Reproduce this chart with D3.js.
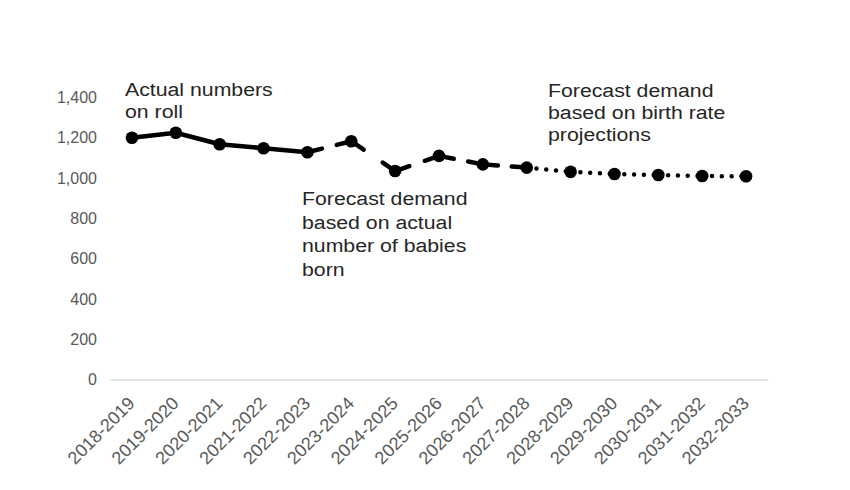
<!DOCTYPE html>
<html>
<head>
<meta charset="utf-8">
<script src="https://cdn.jsdelivr.net/npm/d3@7"></script>
<style>
  html, body { margin: 0; padding: 0; background: #ffffff; }
  svg { display: block; }
</style>
</head>
<body>
<svg id="chart" width="850" height="490"></svg>
<script>
const categories = ["2018-2019","2019-2020","2020-2021","2021-2022","2022-2023","2023-2024","2024-2025","2025-2026","2026-2027","2027-2028","2028-2029","2029-2030","2030-2031","2031-2032","2032-2033"];
// Actual numbers on roll (indices 0-4)
const actualValues = [1200, 1225, 1168, 1148, 1128, null, null, null, null, null, null, null, null, null, null];
// Forecast from actual number of babies born (indices 4-9)
const forecastBirthsValues = [null, null, null, null, 1128, 1183, 1035, 1110, 1068, 1052, null, null, null, null, null];
// Forecast from birth rate projections (indices 9-14)
const forecastProjectionValues = [null, null, null, null, null, null, null, null, null, 1052, 1031, 1020, 1015, 1010, 1009];
const yTicks = [0, 200, 400, 600, 800, 1000, 1200, 1400];
const annotations = [
  { lines: ["Actual numbers", "on roll"], x: 125, y: 96, dy: 22 },
  { lines: ["Forecast demand", "based on actual", "number of babies", "born"], x: 302, y: 205, dy: 23.6 },
  { lines: ["Forecast demand", "based on birth rate", "projections"], x: 548, y: 96.5, dy: 22.5 }
];

const svg = d3.select("#chart");
const x = d3.scaleBand().domain(categories).range([110, 768]);
const cx = c => x(c) + x.bandwidth() / 2;
const y = d3.scaleLinear().domain([0, 1400]).range([379.5, 97.5]);

// Y-axis labels
const yAxis = d3.axisLeft(y).tickValues(yTicks).tickFormat(d3.format(",")).tickSize(0).tickPadding(0);
const gy = svg.append("g").attr("transform", "translate(97,0)").call(yAxis);
gy.select(".domain").remove();
gy.selectAll("text").attr("font-family", "Liberation Sans, Arial, sans-serif").attr("font-size", 16).attr("fill", "#595959");

// X axis
const xAxis = d3.axisBottom(x).tickSize(0).tickPadding(0);
const gx = svg.append("g").attr("transform", `translate(0,${y(0)})`).call(xAxis);
gx.select(".domain").attr("stroke", "#d9d9d9").attr("stroke-width", 1.5);
gx.selectAll("text")
  .attr("font-family", "Liberation Sans, Arial, sans-serif")
  .attr("font-size", 18)
  .attr("fill", "#595959")
  .attr("text-anchor", "end")
  .attr("dy", null)
  .attr("y", 0)
  .attr("transform", "translate(4,25) rotate(-45)");

function pts(vals) {
  return categories.map((c, i) => ({ c, v: vals[i] })).filter(d => d.v != null);
}
function segments(vals) {
  const p = pts(vals);
  const segs = [];
  for (let i = 0; i < p.length - 1; i++) segs.push([p[i], p[i + 1]]);
  return segs;
}
const color = "#000000";
const line = d3.line().x(d => cx(d.c)).y(d => y(d.v));

// Solid actual series
svg.append("path").datum(pts(actualValues)).attr("d", line)
  .attr("fill", "none").attr("stroke", color).attr("stroke-width", 4.5).attr("stroke-linejoin", "round");

// Dashed forecast (babies born): dash around each point
svg.append("g").selectAll("path").data(segments(forecastBirthsValues)).join("path")
  .attr("d", d => line(d))
  .attr("fill", "none").attr("stroke", color).attr("stroke-width", 4.5).attr("stroke-linecap", "round")
  .attr("stroke-dasharray", d => {
    const len = Math.hypot(cx(d[1].c) - cx(d[0].c), y(d[1].v) - y(d[0].v));
    const a = 15;
    return `${a} ${len - 2 * a} ${a} 0`;
  });

// Dotted forecast (projections)
svg.append("g").selectAll("path").data(segments(forecastProjectionValues)).join("path")
  .attr("d", d => line(d))
  .attr("fill", "none").attr("stroke", color).attr("stroke-width", 4.5).attr("stroke-linecap", "round")
  .attr("stroke-dasharray", "0 9.8");

// Markers
const allPts = categories.map((c, i) => ({ c, v: actualValues[i] ?? forecastBirthsValues[i] ?? forecastProjectionValues[i] }));
svg.append("g").selectAll("circle").data(allPts).join("circle")
  .attr("cx", d => cx(d.c)).attr("cy", d => y(d.v)).attr("r", 6.3).attr("fill", color);

// Annotations
annotations.forEach(a => {
  const g = svg.append("g").attr("transform", `translate(${a.x},${a.y}) scale(1.12,1)`);
  a.lines.forEach((t, i) => {
    g.append("text").attr("x", 0).attr("y", i * a.dy)
      .attr("font-family", "Liberation Sans, Arial, sans-serif")
      .attr("font-size", 19).attr("fill", "#262626").text(t);
  });
});
</script>
</body>
</html>
